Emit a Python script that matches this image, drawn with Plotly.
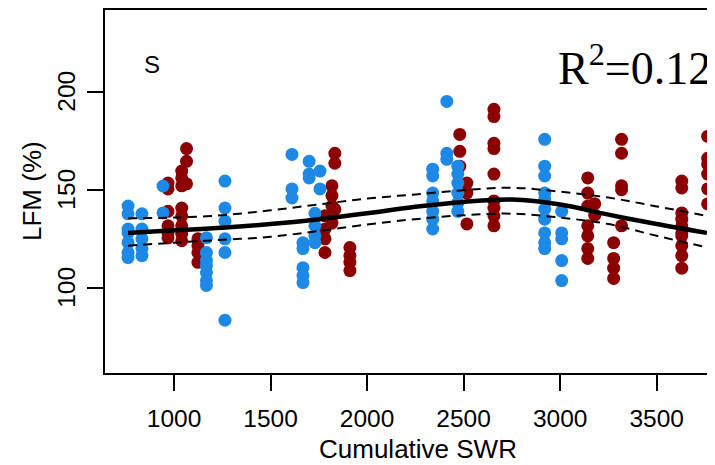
import plotly.graph_objects as go

# ---- data ----
blue_x = [762]*7 + [834]*5 + [943]*2 + [1168]*7 + [1264]*6 + [1611]*3 + [1668]*5 + [1700]*3 + [1730]*4 + [1756]*2 \
    + [2340]*7 + [2413]*3 + [2470]*6 + [2920]*10 + [3008]*5
blue_y = [141.7, 137.7, 130, 128, 123, 118, 115.4,
          137.7, 130, 125, 120, 116.4,
          151.9, 138.2,
          125.5, 118, 114, 111.3, 107.8, 103.7, 101.2,
          154.4, 140.7, 134, 125, 118, 83.5,
          168, 150.4, 145.8,
          123, 120, 110.3, 106.3, 102.7,
          164.5, 158, 156,
          138, 131.6, 126.5, 123,
          159.5, 150.4,
          160.5, 157, 148.3, 144.3, 139, 135, 130,
          195, 168.6, 165.5,
          162, 158, 153.4, 148.3, 143.3, 139,
          175.7, 162, 157, 148.3, 145.3, 140.2, 135, 128, 123, 120,
          139, 128, 125, 113.9, 103.7]

red_x = [969]*6 + [1040]*8 + [1065]*3 + [1124]*4 + [1782]*4 + [1818]*5 + [1833]*3 + [1911]*4 \
    + [2480]*3 + [2517]*3 + [2657]*9 + [3143]*7 + [3179]*2 + [3277]*4 + [3318]*5 + [3630]*10 + [3764]*6
red_y = [153.4, 150.4, 139, 131.6, 128, 125.5,
         159.5, 156, 152, 140.7, 136.7, 131.6, 127.6, 124,
         171, 164.5, 153,
         125, 121.5, 118, 113,
         136.7, 130, 125, 118,
         152, 147, 141.7, 136.7, 133,
         168.6, 163.5, 140,
         120.5, 116.4, 113, 108.8,
         178.2, 169.6, 162,
         153.4, 148.3, 132.6,
         191, 187.3, 173.7, 171, 158, 144.3, 140.7, 136.7, 131.6,
         156, 148.3, 141.7, 131.6, 126.5, 120, 115,
         142.8, 137,
         123, 115, 110, 104.8,
         175.7, 168.6, 152, 150, 131.6,
         154.4, 150.9, 138.2, 135, 131.6, 128, 126.5, 121.5, 116.4, 110,
         177.2, 166, 163, 158, 150.4, 142.8]

fit_x = [762, 1000, 1250, 1500, 1750, 2000, 2250, 2500, 2750, 3000, 3250, 3500, 3760]
fit_y = [128, 129.3, 130.6, 132.5, 135, 138, 141.3, 143.8, 145, 142.5, 137.3, 132.5, 128]
upper_y = [135.5, 135.8, 137, 139.5, 142.5, 145.5, 147.6, 149.8, 151, 149, 146, 141.5, 136.7]
lower_y = [121.5, 123, 124.5, 126, 129, 132.3, 135, 137, 137.8, 135.8, 132.5, 126.5, 120.6]

x_ticks = [1000, 1500, 2000, 2500, 3000, 3500]
y_ticks = [100, 150, 200]

BLUE = "#1E88E5"
RED = "#8B0000"

fig = go.Figure()
fig.add_trace(go.Scatter(x=red_x, y=red_y, mode="markers",
                         marker=dict(color=RED, size=13, line=dict(width=0)), hoverinfo="skip"))
fig.add_trace(go.Scatter(x=blue_x, y=blue_y, mode="markers",
                         marker=dict(color=BLUE, size=13, line=dict(width=0)), hoverinfo="skip"))
fig.add_trace(go.Scatter(x=fit_x, y=upper_y, mode="lines", line_shape="spline",
                         line=dict(color="black", width=2, dash="9px,6px")))
fig.add_trace(go.Scatter(x=fit_x, y=lower_y, mode="lines", line_shape="spline",
                         line=dict(color="black", width=2, dash="9px,6px")))
fig.add_trace(go.Scatter(x=fit_x, y=fit_y, mode="lines", line_shape="spline",
                         line=dict(color="black", width=4.5)))

# page has an 8px body margin; figure placed at (8, 8)
OFF = 8
PL, PT, PR, PB = 105, 8, 715, 373      # plot area in page pixels
W, H = 715 - OFF, 465 - OFF
L, T = PL - OFF, PT - OFF
B = H - (PB - OFF)
R = W - (PR - OFF)
pw = PR - PL
ph = PB - PT

def px_x(p):
    return (p - PL) / pw

def px_y(p):
    return (PB - p) / ph

annotations = [
    dict(text="Cumulative SWR", xref="paper", yref="paper",
         x=px_x(418), y=px_y(467), xanchor="center", yanchor="bottom",
         showarrow=False, font=dict(size=26)),
    dict(text="LFM (%)", xref="paper", yref="paper", textangle=-90,
         x=px_x(32), y=px_y(190), xanchor="center", yanchor="middle",
         showarrow=False, font=dict(size=26)),
    dict(text="S", xref="paper", yref="paper",
         x=px_x(152), y=px_y(63), xanchor="center", yanchor="middle",
         showarrow=False, font=dict(size=24)),
    dict(text="R<sup>2</sup>=0.12", xref="paper", yref="paper",
         x=px_x(713), y=px_y(63), xanchor="right", yanchor="middle",
         showarrow=False,
         font=dict(family="Liberation Serif, Times New Roman, serif", size=46)),
]
for v in y_ticks:
    annotations.append(dict(text=str(v), xref="paper", yref="y", x=px_x(67), y=v,
                            textangle=-90, xanchor="center", yanchor="middle",
                            showarrow=False, font=dict(size=24.5)))

fig.update_layout(
    width=W, height=H,
    margin=dict(l=L, r=R, t=T, b=B, pad=0),
    paper_bgcolor="white", plot_bgcolor="white",
    showlegend=False,
    font=dict(family="Liberation Sans, Arial, sans-serif", size=24, color="black"),
    xaxis=dict(range=[642.6, 3802], tickmode="array", tickvals=x_ticks,
               ticktext=[str(v) for v in x_ticks],
               showgrid=False, zeroline=False, showline=True, mirror=True,
               linecolor="black", linewidth=2, ticks="outside", ticklen=16,
               tickwidth=2, tickcolor="black", ticklabelstandoff=7,
               tickfont=dict(size=24.5)),
    yaxis=dict(range=[56.6, 241.6], tickmode="array", tickvals=y_ticks,
               showticklabels=False,
               showgrid=False, zeroline=False, showline=True, mirror=False,
               linecolor="black", linewidth=2, ticks="outside", ticklen=16,
               tickwidth=2, tickcolor="black"),
    annotations=annotations,
)

fig.write_html("out.html")
